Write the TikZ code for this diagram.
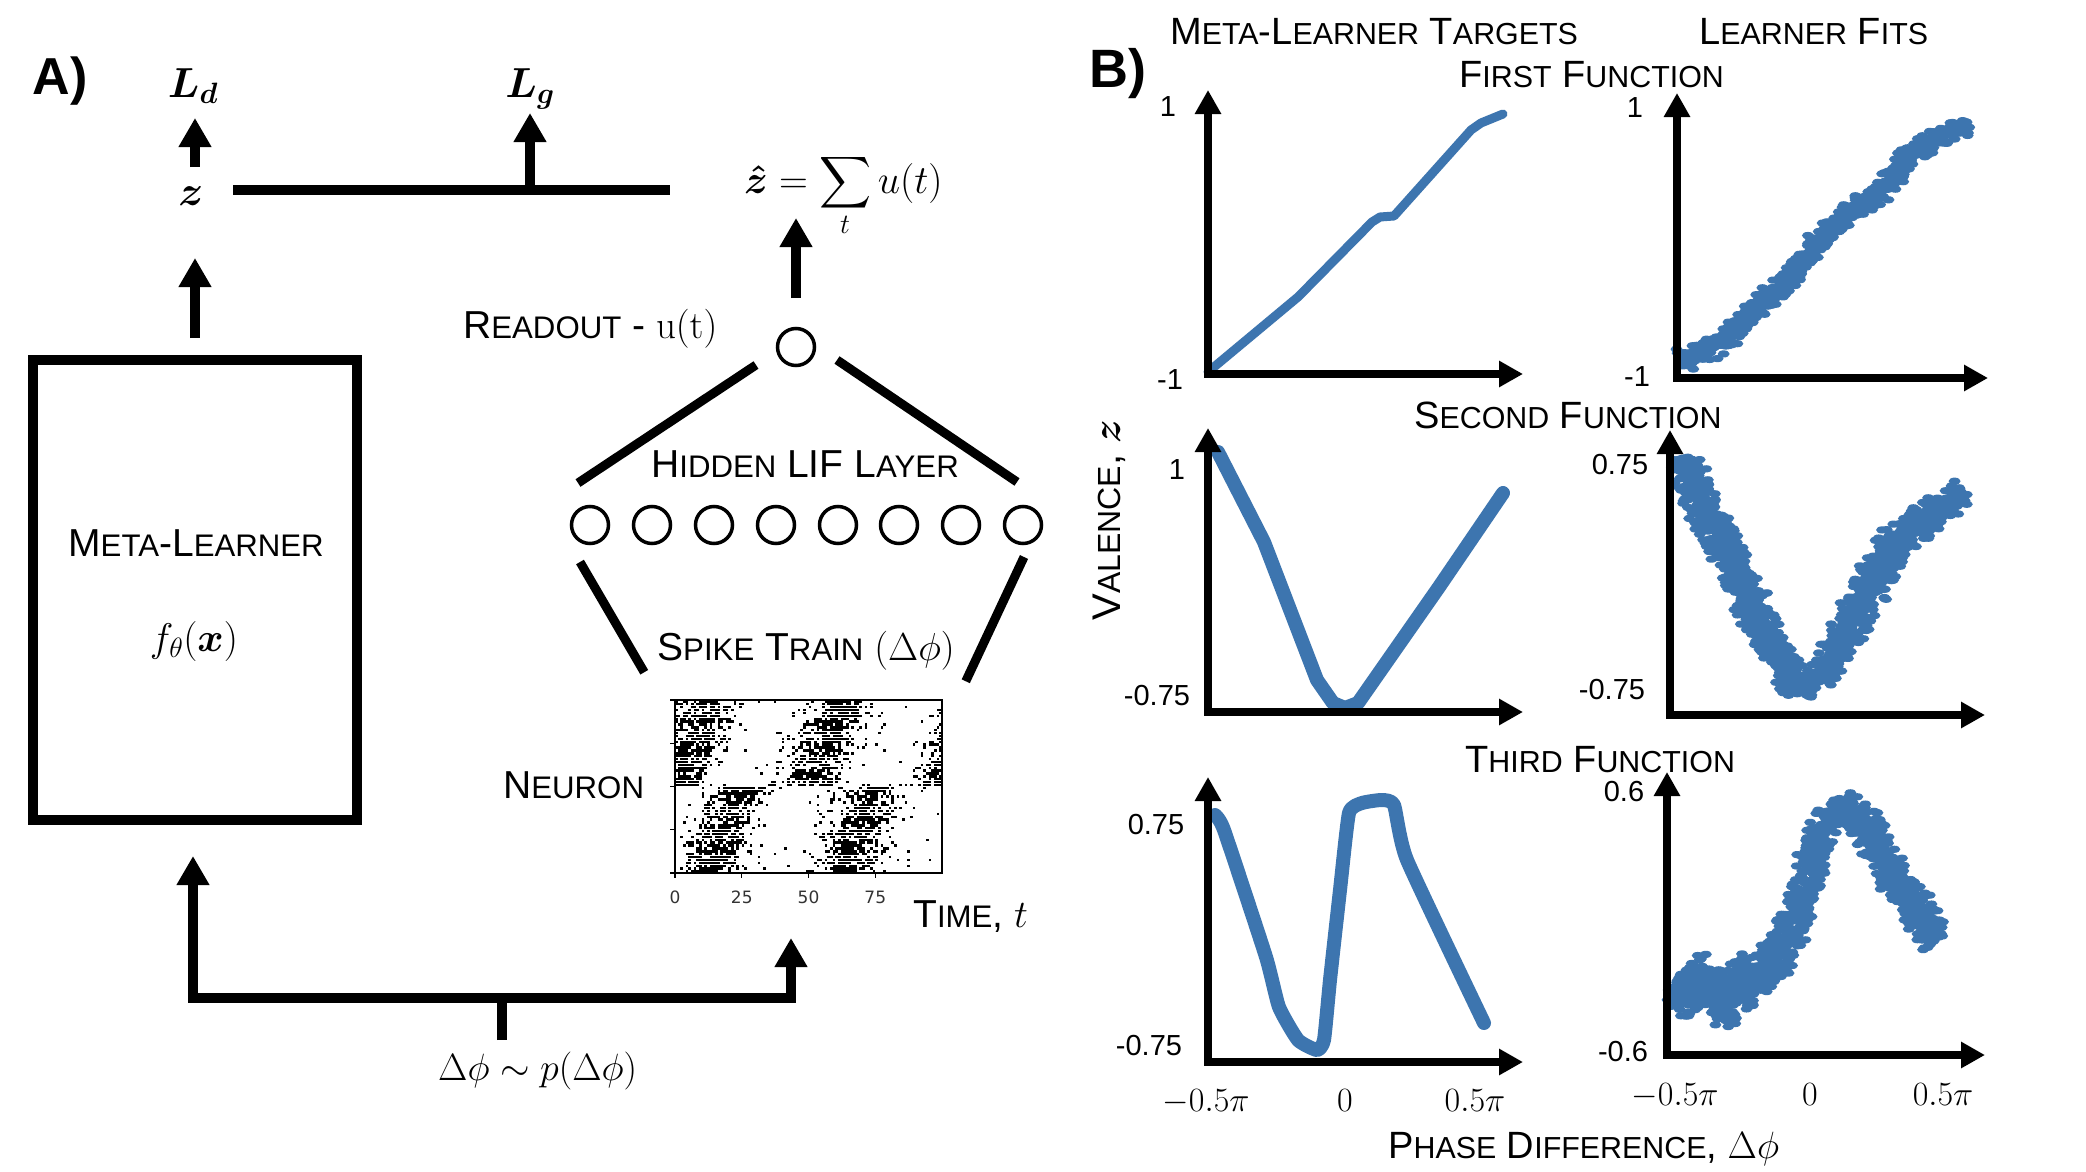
\RequirePackage{fix-cm}
\documentclass[tikz,border=0pt]{standalone}
\usepackage{amsmath}
\usepackage{bm}
\usepackage{graphicx}
\usepackage[no-math]{fontspec}
\setmainfont{Liberation Sans}
\newfontfamily\dejavu{DejaVu Sans}
\usetikzlibrary{arrows.meta}
\definecolor{bl}{RGB}{61,117,175}
\newcommand\smc[1]{\scalebox{0.8}{#1}}
\newcommand\fs[1]{\fontsize{#1}{#1}\selectfont}
\tikzset{
  lab/.style={font=\fs{39}, inner sep=0pt},
  blab/.style={font=\fs{38}, inner sep=0pt},
  tick/.style={font=\fs{29}, inner sep=0pt},
  mtick/.style={font=\fs{34}, inner sep=0pt},
  thickarrow/.style={line width=10pt, -{Triangle[length=29pt,width=31pt]}},
  bothtips/.style={line width=10pt, {Triangle[length=29pt,width=31pt]}-{Triangle[length=29pt,width=31pt]}},
  axes/.style={line width=8pt, {Triangle[length=24pt,width=25pt]}-{Triangle[length=24pt,width=25pt]}},
  neuron/.style={circle, draw, line width=3.5pt, minimum size=37pt, inner sep=0pt},
  wire/.style={line width=9pt},
  curve/.style={bl, line cap=round, line join=round},
}
% scatter band along a polyline: x1/y1/x2/y2/A  (A = half thickness, perpendicular)
\newcommand\scat[1]{%
  \foreach \xa/\ya/\xb/\yb/\A in {#1}{%
    \pgfmathsetmacro\LL{veclen(\xb-\xa,\yb-\ya)}%
    \pgfmathsetmacro\nxx{-(\yb-\ya)/\LL}%
    \pgfmathsetmacro\nyy{(\xb-\xa)/\LL}%
    \pgfmathtruncatemacro\nn{max(8,\LL*\A/7)}%
    \foreach \k in {1,...,\nn}{%
      \pgfmathsetmacro\s{rnd}%
      \pgfmathsetmacro\o{\A*(rand+rand)/2}%
      \pgfmathsetmacro\px{\xa+(\xb-\xa)*\s+\nxx*\o+2*rand}%
      \pgfmathsetmacro\py{\ya+(\yb-\ya)*\s+\nyy*\o+2*rand}%
      \fill[bl] (\px,\py) ellipse[x radius=6, y radius=3.6];
    }%
  }%
}
\begin{document}
\begin{tikzpicture}[x=1pt,y=-1pt]
\useasboundingbox (0,0) rectangle (2086,1172);
\fill[white] (0,0) rectangle (2086,1172);

% ================= Panel A =================
\node[font=\fs{52}\bfseries, inner sep=0pt, anchor=base] (A) at (60,95) {A)};
\node[font=\fs{42}, inner sep=0pt, anchor=base] (Ld) at (193,97) {$\bm{L_d}$};
\node[font=\fs{42}, inner sep=0pt, anchor=base] (Lg) at (530,97) {$\bm{L_g}$};
\node[font=\fs{42}, inner sep=0pt, anchor=base] (z) at (191,205) {$\bm{z}$};

\coordinate (ztail) at (195,167);
\coordinate (ztip) at (195,118);
\draw[thickarrow] (ztail) -- (ztip);

\coordinate (zl) at (233,190);
\coordinate (zr) at (670,190);
\draw[line width=10pt] (zl) -- (zr);
\coordinate (lgfoot) at (530,190);
\coordinate (lgtip) at (530,113);
\draw[thickarrow] (lgfoot) -- (lgtip);

% meta-learner box
\node[draw, line width=10pt, minimum width=324pt, minimum height=460pt, inner sep=0pt] (meta) at (195,590) {};
\node[lab, anchor=base] (metaname) at (196,556) {M\smc{ETA}-L\smc{EARNER}};
\node[font=\fs{40}, inner sep=0pt] (fx) at (194,641) {$f_\theta(\bm{x})$};

\coordinate (mtail) at (195,338);
\coordinate (mtip) at (195,258);
\draw[thickarrow] (mtail) -- (mtip);

% sampling
\node[font=\fs{38}, inner sep=0pt, anchor=base west] (sample) at (438,1080) {$\Delta\phi \sim p(\Delta\phi)$};
\coordinate (stem) at (502,1040);
\coordinate (junc) at (502,998);
\coordinate (tipA) at (193,856);
\coordinate (cornA) at (193,998);
\coordinate (cornB) at (791,998);
\coordinate (tipB) at (791,938);
\draw[line width=10pt] (stem) -- (junc);
\draw[bothtips] (tipA) -- (cornA) -- (cornB) -- (tipB);

% readout
\node[font=\fs{40}, inner sep=0pt, anchor=base west] (zhat) at (744,193)
  {$\bm{\hat{z}} = \mathop{\vcenter{\hbox{\scalebox{1.45}{$\displaystyle\sum$}}}}\limits_{t} u(t)$};
\coordinate (rtail) at (796,298);
\coordinate (rtip) at (796,218);
\draw[thickarrow] (rtail) -- (rtip);
\node[neuron] (ro) at (796,347) {};
\node[lab, anchor=base west] (rolab) at (463,338) {R\smc{EADOUT} - $\mathrm{u(t)}$};

% hidden layer
\foreach \i/\x in {1/590,2/652,3/714,4/776,5/838,6/899,7/961,8/1023}{
  \node[neuron] (h\i) at (\x,525) {};
}
\node[lab, anchor=base west] (hidlab) at (651,477) {H\smc{IDDEN} LIF L\smc{AYER}};
\draw[wire] ([shift={(-40,18)}]ro.center) -- ([shift={(-12,-42)}]h1.center);
\draw[wire] ([shift={(41,13)}]ro.center) -- ([shift={(-6,-43)}]h8.center);

% spike train raster
\node[draw, line width=1.5pt, minimum width=267pt, minimum height=173pt, inner sep=0pt] (raster) at (808.5,786.5) {};
\draw[wire] ([shift={(-10,37)}]h1.center) -- ([shift={(-30,-27)}]raster.north west);
\draw[wire] ([shift={(1,32)}]h8.center) -- ([shift={(23,-18)}]raster.north east);
\node[lab, anchor=base west] (spklab) at (657,660) {S\smc{PIKE} T\smc{RAIN} $(\Delta\phi)$};
\node[lab, anchor=base west] (neulab) at (503,798) {N\smc{EURON}};
\node[lab, anchor=base west] (timelab) at (913,927) {T\smc{IME}, $t$};

\pgfmathsetseed{11}
\foreach \r in {0,...,59}{
  \pgfmathsetmacro\c{ifthenelse(\r<30, 12+12*\r/29, 50+12*(\r-30)/29)}
  \foreach \t in {0,...,99}{
    \pgfmathsetmacro\d{mod(\t-\c+125,50)-25}
    \pgfmathtruncatemacro\hit{(rnd < 0.8*exp(-(\d/9.5)^2)+0.01)}
    \ifnum\hit=1 \fill (675+2.67*\t, 873-2.883*\r-0.3) rectangle +(2.67,-2.4);\fi
  }
}
\foreach \y in {700,743.25,786.5,829.75,873}{
  \draw[line width=1.2pt] (675,\y) -- (670,\y);
}
\foreach \t in {0,25,50,75}{
  \draw[line width=1.2pt] (675+2.67*\t,873) -- (675+2.67*\t,878);
  \node[font=\dejavu\fs{17}, text=black!80, inner sep=0pt] (rt\t) at (675+2.67*\t,897) {\t};
}

% ================= Panel B =================
\node[font=\fs{54}\bfseries, inner sep=0pt, anchor=base] (B) at (1118,88) {B)};
\node[blab, anchor=base west] (h-targets) at (1170,45) {M\smc{ETA}-L\smc{EARNER} T\smc{ARGETS}};
\node[blab, anchor=base west] (h-fits) at (1699,45) {L\smc{EARNER} F\smc{ITS}};
\node[blab, anchor=base west] (h-first) at (1459,88) {F\smc{IRST} F\smc{UNCTION}};
\node[blab, anchor=base west] (h-second) at (1414,428) {S\smc{ECOND} F\smc{UNCTION}};
\node[blab, anchor=base west] (h-third) at (1465,772) {T\smc{HIRD} F\smc{UNCTION}};
\node[font=\fs{40}, inner sep=0pt, rotate=90] (valence) at (1109,520) {V\smc{ALENCE}, $\bm{z}$};
\node[blab, anchor=base west] (phase) at (1388,1158) {P\smc{HASE} D\smc{IFFERENCE}, $\Delta\phi$};

% target curves
\draw[curve, line width=9pt] plot coordinates {(1208,372) (1298,297) (1372,222) (1380,217) (1394,216) (1471,130) (1481,123) (1503,114)};
\draw[curve, line width=14pt] plot coordinates {(1218,452) (1264,542) (1317,680) (1333,703) (1345,708) (1358,703) (1439,587) (1503,493)};
\draw[curve, line width=14pt] plot[smooth, tension=0.3] coordinates {(1215,815) (1224,830) (1266,957) (1279,1007) (1298,1040) (1317,1050) (1324,1040) (1330,980) (1340,890) (1349,813) (1362,803) (1382,800) (1394,805) (1407,860) (1484,1023)};

% learner fits (scatter)
\pgfmathsetseed{5}
\scat{1681/360/1722/343/13, 1722/343/1754/310/12, 1754/310/1786/283/12, 1786/283/1818/240/12, 1818/240/1850/213/12, 1850/213/1882/193/12, 1882/193/1914/150/12, 1914/150/1946/133/12, 1946/133/1970/127/11}
\scat{1682/457/1707/513/20, 1707/513/1740/580/20, 1740/580/1773/647/20, 1773/647/1797/692/18, 1797/692/1813/685/14, 1813/685/1840/647/18, 1840/647/1873/580/20, 1873/580/1900/537/20, 1900/537/1933/513/18, 1933/513/1963/492/16}
\scat{1681/975/1709/1000/34, 1709/1000/1734/995/34, 1734/995/1760/970/28, 1760/970/1786/945/22, 1786/945/1805/890/18, 1805/890/1824/823/16, 1824/823/1843/803/14, 1843/803/1863/817/16, 1863/817/1888/867/18, 1888/867/1914/907/20, 1914/907/1938/940/20}

% axes
\coordinate (p1o) at (1208,374); \coordinate (p1t) at (1208,90);  \coordinate (p1r) at (1523,374);
\coordinate (p2o) at (1677,378); \coordinate (p2t) at (1677,93);  \coordinate (p2r) at (1988,378);
\coordinate (p3o) at (1208,712); \coordinate (p3t) at (1208,428); \coordinate (p3r) at (1523,712);
\coordinate (p4o) at (1670,715); \coordinate (p4t) at (1670,430); \coordinate (p4r) at (1985,715);
\coordinate (p5o) at (1208,1062); \coordinate (p5t) at (1208,777); \coordinate (p5r) at (1523,1062);
\coordinate (p6o) at (1667,1055); \coordinate (p6t) at (1667,772); \coordinate (p6r) at (1985,1055);
\foreach \p in {1,...,6}{
  \draw[axes] (p\p t) -- (p\p o) -- (p\p r);
}

% tick labels
\node[tick] (t1a) at (1168,107) {1};
\node[tick] (t1b) at (1170,380) {-1};
\node[tick] (t2a) at (1635,108) {1};
\node[tick] (t2b) at (1637,377) {-1};
\node[tick] (t3a) at (1177,470) {1};
\node[tick] (t3b) at (1157,696) {-0.75};
\node[tick] (t4a) at (1620,465) {0.75};
\node[tick] (t4b) at (1612,690) {-0.75};
\node[tick] (t5a) at (1156,825) {0.75};
\node[tick] (t5b) at (1149,1046) {-0.75};
\node[tick] (t6a) at (1624,792) {0.6};
\node[tick] (t6b) at (1623,1052) {-0.6};
\node[mtick, anchor=base] (x5a) at (1206,1111) {$-0.5\pi$};
\node[mtick, anchor=base] (x5b) at (1345,1111) {$0$};
\node[mtick, anchor=base] (x5c) at (1475,1111) {$0.5\pi$};
\node[mtick, anchor=base] (x6a) at (1675,1105) {$-0.5\pi$};
\node[mtick, anchor=base] (x6b) at (1810,1105) {$0$};
\node[mtick, anchor=base] (x6c) at (1943,1105) {$0.5\pi$};
\end{tikzpicture}
\end{document}
